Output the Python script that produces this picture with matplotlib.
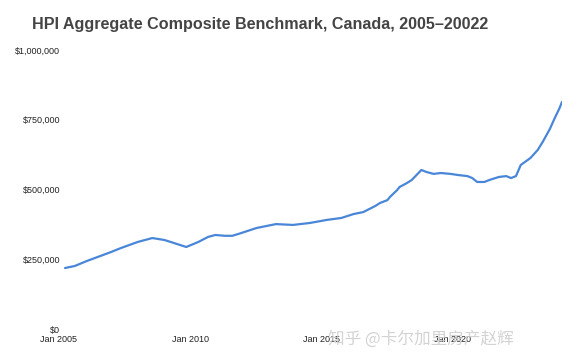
import matplotlib
matplotlib.use("Agg")
import matplotlib.pyplot as plt
import pandas as pd
from matplotlib.ticker import FuncFormatter

title = "HPI Aggregate Composite Benchmark, Canada, 2005–20022"

dates = ["2005-01", "2005-05", "2005-10", "2006-08", "2006-12", "2007-07", "2008-01",
         "2008-06", "2008-10", "2009-03", "2009-08", "2009-12", "2010-03", "2010-07",
         "2010-10", "2011-01", "2011-08", "2012-04", "2012-11", "2013-06", "2014-01",
         "2014-07", "2014-12", "2015-04", "2015-09", "2015-11", "2016-02", "2016-03",
         "2016-06", "2016-07", "2016-10", "2016-12", "2017-02", "2017-04", "2017-06",
         "2017-09", "2017-12", "2018-04", "2018-07", "2018-11", "2019-01", "2019-03",
         "2019-06", "2019-08", "2019-12", "2020-03", "2020-05", "2020-07", "2020-09",
         "2021-01", "2021-04", "2021-06", "2021-09", "2021-11", "2022-01", "2022-02"]
values = [218600, 225800, 243700, 276000, 290000, 312000, 326000,
          319000, 308000, 294000, 312000, 330000, 337000, 334000,
          334000, 342000, 362000, 376000, 373000, 380000, 391000,
          398000, 412000, 419000, 441000, 452000, 462000, 473000,
          498000, 509000, 523000, 534000, 552000, 570000, 563000,
          556000, 559000, 556000, 552000, 548000, 541000, 527000,
          527000, 534000, 545000, 548000, 541000, 548000, 588000,
          613000, 642000, 670000, 717000, 756000, 792000, 814000]

y_ticks = [0, 250000, 500000, 750000, 1000000]
x_tick_labels = ["Jan 2005", "Jan 2010", "Jan 2015", "Jan 2020"]
# label positions as rendered in the reference (in months since Jan 2005)
x_tick_pos = [-2.9, 51.7, 105.8, 159.9]

watermark = "知乎 @卡尔加里房产赵辉"

d = pd.to_datetime(dates)
months = (d.year - 2005) * 12 + (d.month - 1)

fig = plt.figure(figsize=(5.8, 3.61), dpi=100)
ax = fig.add_axes([58 / 580, 32 / 361, (562 - 58) / 580, 279 / 361])
ax.plot(months, values, color="#4a86d8", lw=1.6, solid_capstyle="round",
        solid_joinstyle="round")
ax.set_xlim(-2.9, months[-1])
ax.set_ylim(0, 1000000)
for s in ax.spines.values():
    s.set_visible(False)
ax.set_yticks(y_ticks)
ax.yaxis.set_major_formatter(FuncFormatter(lambda v, p: f"${v:,.0f}"))
ax.set_xticks(x_tick_pos)
ax.set_xticklabels(x_tick_labels)
ax.tick_params(axis="y", length=0, pad=-1.5, labelsize=6.5, labelcolor="#222222")
ax.tick_params(axis="x", length=0, pad=4.5, labelsize=6.5, labelcolor="#222222")
for lab in ax.get_xticklabels() + ax.get_yticklabels():
    lab.set_family(["Liberation Sans", "DejaVu Sans"])

fig.text(260 / 580, 1 - 25 / 361, title, ha="center", va="center",
         fontsize=11.6, fontweight="bold", color="#444444",
         family=["Liberation Sans", "DejaVu Sans"])

fig.text(421 / 580, 1 - 339 / 361, watermark, ha="center", va="center",
         fontsize=12, color="#cccccc", alpha=0.85,
         family=["Noto Sans CJK SC", "DejaVu Sans"])

fig.savefig("out.png", dpi=100)
